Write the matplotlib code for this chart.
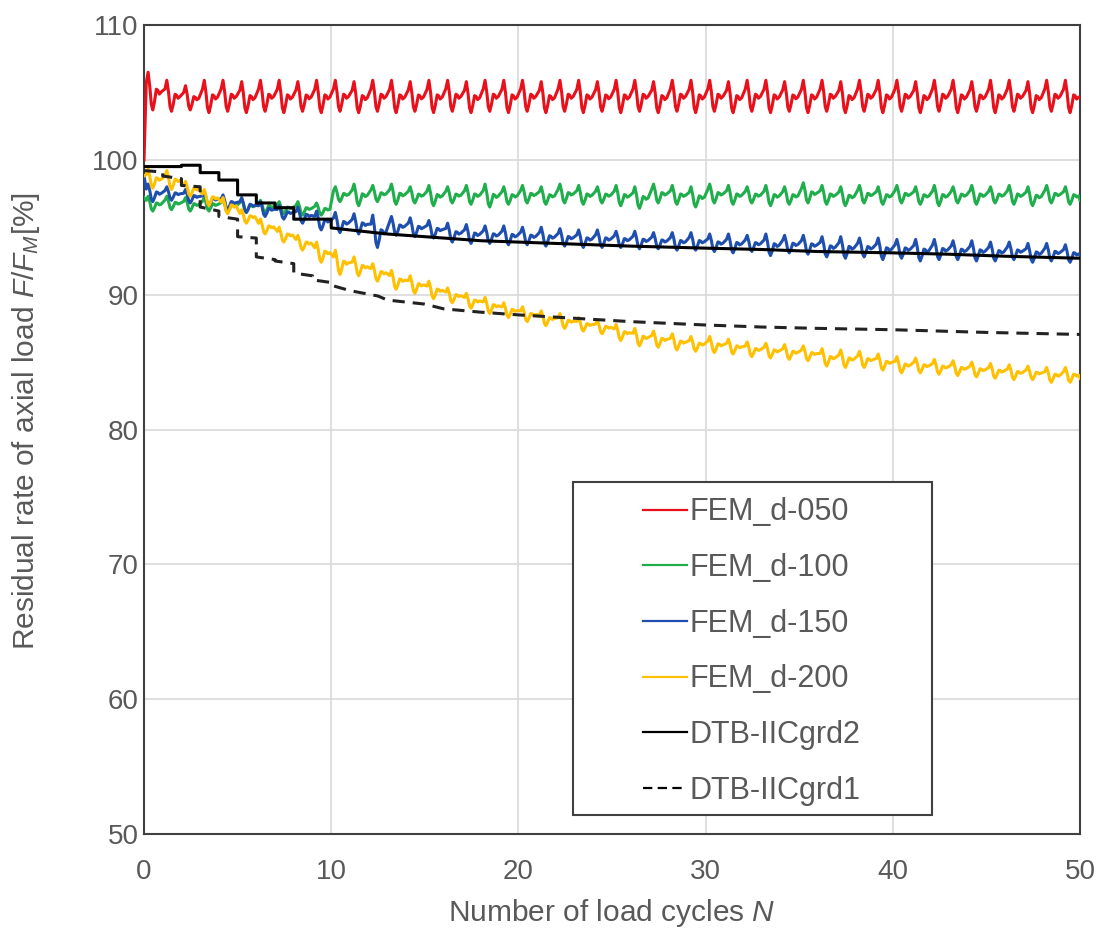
import matplotlib
matplotlib.use("Agg")
import matplotlib.pyplot as plt
from matplotlib.lines import Line2D
from matplotlib.patches import Rectangle

# ---------------- data ----------------
cycles_N = list(range(50))

red_start, red_end = 100.0, 104.6
red_hi = [106.5, 105.9, 105.5, 105.9, 105.9, 105.8, 105.9, 105.9, 105.8, 105.9,
          105.9, 105.8, 105.9, 105.9, 105.8, 105.9, 105.9, 105.8, 105.9, 105.9,
          105.9, 105.8, 105.9, 105.9, 105.8, 105.9, 105.9, 105.8, 105.9, 105.9,
          105.9, 105.8, 105.9, 105.9, 105.8, 105.9, 105.9, 105.8, 105.9, 105.9,
          105.9, 105.8, 105.9, 105.9, 105.8, 105.9, 105.9, 105.8, 105.9, 105.9]
red_lo = [103.7, 103.6, 103.7, 103.5, 103.6, 103.5, 103.6, 103.5, 103.6, 103.5,
          103.6, 103.5, 103.6, 103.5, 103.6, 103.5, 103.6, 103.5, 103.6, 103.5,
          103.6, 103.5, 103.6, 103.5, 103.6, 103.5, 103.6, 103.5, 103.6, 103.5,
          103.6, 103.5, 103.6, 103.5, 103.6, 103.5, 103.6, 103.5, 103.6, 103.5,
          103.6, 103.5, 103.6, 103.5, 103.6, 103.5, 103.6, 103.5, 103.6, 103.5]

green_start, green_end = 97.2, 97.0
green_hi = [97.3, 97.3, 97.2, 97.2, 97.1, 97.1, 97.0, 96.9, 96.9, 96.8,
            98.0, 98.2, 98.1, 98.2, 98.0, 98.1, 98.0, 98.1, 98.2, 98.0,
            98.1, 98.0, 98.2, 98.1, 98.0, 98.1, 98.0, 98.2, 98.1, 98.0,
            98.2, 98.1, 98.0, 98.1, 98.0, 98.3, 98.1, 98.0, 98.1, 98.0,
            98.1, 98.0, 98.1, 98.0, 98.1, 98.0, 98.1, 98.0, 98.1, 98.0]
green_lo = [96.2, 96.3, 96.2, 96.2, 96.1, 96.1, 96.1, 96.0, 95.9, 95.9,
            96.9, 96.6, 96.9, 96.7, 96.8, 96.6, 96.8, 96.7, 96.5, 96.7,
            96.8, 96.7, 96.8, 96.7, 96.8, 96.6, 96.4, 96.8, 96.7, 96.5,
            96.8, 96.7, 96.8, 96.6, 96.7, 96.8, 96.7, 96.6, 96.8, 96.7,
            96.8, 96.7, 96.6, 96.8, 96.7, 96.8, 96.7, 96.6, 96.8, 96.7]

blue_start, blue_end = 98.8, 92.9
blue_hi = [98.2, 98.0, 97.8, 97.6, 97.4, 97.2, 96.9, 96.6, 96.5, 96.2,
           96.1, 96.0, 95.9, 95.8, 95.7, 95.5, 95.3, 95.2, 95.1, 95.1,
           95.0, 95.0, 94.9, 94.8, 94.8, 94.7, 94.7, 94.6, 94.6, 94.6,
           94.5, 94.5, 94.4, 94.5, 94.4, 94.4, 94.3, 94.3, 94.2, 94.2,
           94.1, 94.1, 94.1, 94.0, 94.0, 93.9, 93.9, 93.8, 93.8, 93.7]
blue_lo = [96.9, 97.0, 96.8, 96.6, 96.3, 96.1, 95.8, 95.6, 95.3, 94.8,
           94.6, 94.5, 93.5, 94.4, 94.3, 94.2, 93.9, 93.8, 93.8, 93.7,
           93.7, 93.6, 93.6, 93.5, 93.5, 93.5, 93.4, 93.4, 93.3, 93.3,
           93.2, 93.1, 93.2, 92.9, 93.1, 93.0, 92.8, 92.7, 92.8, 92.6,
           92.7, 92.5, 92.6, 92.6, 92.5, 92.5, 92.6, 92.4, 92.5, 92.4]

yellow_start, yellow_end = 98.8, 83.8
yellow_hi = [99.3, 99.2, 98.4, 97.8, 97.2, 96.3, 95.6, 95.0, 94.4, 93.9,
             93.3, 92.8, 92.3, 91.8, 91.4, 91.0, 90.5, 90.1, 89.8, 89.4,
             89.1, 88.8, 88.6, 88.3, 88.1, 87.8, 87.5, 87.3, 87.1, 86.9,
             86.9, 86.7, 86.5, 86.4, 86.3, 86.2, 86.0, 85.9, 85.8, 85.6,
             85.4, 85.3, 85.2, 85.1, 85.0, 84.9, 84.8, 84.7, 84.6, 84.6]
yellow_lo = [97.9, 97.8, 97.3, 96.6, 96.0, 95.3, 94.5, 93.9, 93.3, 92.4,
             91.5, 91.4, 91.0, 90.4, 90.1, 89.7, 89.4, 89.0, 88.6, 88.3,
             88.0, 87.7, 87.5, 87.3, 87.1, 86.6, 86.2, 86.1, 85.9, 85.8,
             85.7, 85.6, 85.4, 85.3, 85.2, 85.1, 84.7, 84.6, 84.6, 84.4,
             84.2, 84.2, 84.1, 84.0, 83.9, 83.8, 83.7, 83.7, 83.5, 83.5]

dtb2_N = [0, 2, 2, 3, 3, 4, 4, 5, 5, 6, 6, 7, 7, 8, 8, 10, 10, 11, 13, 15,
          18, 20, 23, 26, 30, 33, 36, 40, 43, 46, 50]
dtb2_F = [99.5, 99.5, 99.6, 99.6, 99.05, 99.05, 98.5, 98.5, 97.4, 97.4, 96.8, 96.8,
          96.45, 96.45, 95.6, 95.6, 94.95, 94.8, 94.5, 94.3, 94.0, 93.9, 93.75,
          93.6, 93.45, 93.35, 93.2, 93.1, 93.0, 92.85, 92.7]

dtb1_N = [0, 1, 1, 2, 2, 3, 3, 4, 4, 5, 5, 6, 6, 7, 7, 8, 8, 9, 9, 10, 10,
          11, 12.5, 13, 15, 16, 18, 20, 23, 26, 30, 33, 36, 40, 45, 50]
dtb1_F = [99.2, 99.1, 98.8, 98.6, 98.1, 98.0, 96.5, 96.2, 95.8, 95.6, 94.3, 94.2,
          92.8, 92.6, 92.5, 92.3, 91.6, 91.4, 91.1, 90.9, 90.7, 90.3, 89.9, 89.6,
          89.3, 88.95, 88.7, 88.5, 88.25, 88.0, 87.75, 87.6, 87.5, 87.4, 87.2, 87.05]

labels = ["FEM_d-050", "FEM_d-100", "FEM_d-150", "FEM_d-200", "DTB-IICgrd2", "DTB-IICgrd1"]
x_ticks = [0, 10, 20, 30, 40, 50]
y_ticks = [50, 60, 70, 80, 90, 100, 110]

# ---------------- style ----------------
C_RED, C_GREEN, C_BLUE, C_YEL = "#e8101a", "#1fae4b", "#1f4fae", "#ffc000"
TXT = "#595959"
plt.rcParams["font.family"] = ["Liberation Sans", "DejaVu Sans"]
plt.rcParams["mathtext.fontset"] = "custom"
plt.rcParams["mathtext.it"] = "Liberation Sans:italic"
plt.rcParams["mathtext.rm"] = "Liberation Sans"

# drawing template for one load cycle: (phase within cycle, height between trough 0 and peak 1)
CYCLE_SHAPE = [(0.12, 0.72), (0.22, 1.0), (0.31, 0.62), (0.39, 0.15), (0.47, 0.0),
               (0.56, 0.22), (0.66, 0.55), (0.74, 0.52), (0.82, 0.42), (0.93, 0.48)]


def cycle_wave(start, hi, lo, end):
    xs, ys = [0.0], [start]
    for n, h, l in zip(cycles_N, hi, lo):
        for ph, fr in CYCLE_SHAPE:
            xs.append(n + ph)
            ys.append(l + fr * (h - l))
    xs.append(50.0)
    ys.append(end)
    return xs, ys


fig = plt.figure(figsize=(11.07, 9.31), dpi=100)
ax = fig.add_axes([144 / 1107, 97 / 931, 936 / 1107, 809 / 931])

lw = 2.2
for (s, h, l, e), c in zip(
        [(red_start, red_hi, red_lo, red_end),
         (green_start, green_hi, green_lo, green_end),
         (blue_start, blue_hi, blue_lo, blue_end),
         (yellow_start, yellow_hi, yellow_lo, yellow_end)],
        [C_RED, C_GREEN, C_BLUE, C_YEL]):
    xs, ys = cycle_wave(s, h, l, e)
    ax.plot(xs, ys, color=c, lw=lw, solid_joinstyle="round", zorder=3)

ax.plot(dtb2_N, dtb2_F, color="black", lw=lw, zorder=3.2)
ax.plot(dtb1_N, dtb1_F, color="#222222", lw=lw, linestyle=(0, (4.0, 2.6)), zorder=3.1)

ax.set_xlim(0, 50)
ax.set_ylim(50, 110)
ax.set_xticks(x_ticks)
ax.set_yticks(y_ticks)
ax.grid(True, color="#d9d9d9", lw=1.2, zorder=0)
ax.set_axisbelow(True)
ax.tick_params(length=0, labelsize=20, colors=TXT)
ax.tick_params(axis="x", pad=18)
ax.tick_params(axis="y", pad=4)
for sp in ax.spines.values():
    sp.set_color("#404040")
    sp.set_linewidth(1.5)

ax.set_xlabel(r"Number of load cycles $\it{N}$", fontsize=21.5, color=TXT)
ax.set_ylabel(r"Residual rate of axial load $\it{F/F_M}$[%]", fontsize=21.5, color=TXT)
ax.xaxis.set_label_coords(0.5, -0.078)
ax.yaxis.set_label_coords(-0.109, 0.51)

# legend
ax.add_patch(Rectangle((0.458, 0.023), 0.384, 0.412, transform=ax.transAxes,
                       facecolor="white", edgecolor="#404040", lw=1.5, zorder=4))
handles = [Line2D([], [], color=C_RED, lw=1.6),
           Line2D([], [], color=C_GREEN, lw=1.6),
           Line2D([], [], color=C_BLUE, lw=1.6),
           Line2D([], [], color=C_YEL, lw=1.6),
           Line2D([], [], color="black", lw=1.6),
           Line2D([], [], color="black", lw=1.6, linestyle=(0, (4.2, 2.4)))]
leg = ax.legend(handles, labels, loc="upper left", bbox_to_anchor=(0.533, 0.416),
                frameon=False, fontsize=22, handlelength=1.44, handletextpad=0.1,
                labelspacing=0.84, borderpad=0, borderaxespad=0)
leg.set_zorder(5)
for t in leg.get_texts():
    t.set_color(TXT)

fig.savefig("out.png", dpi=100, facecolor="white")
